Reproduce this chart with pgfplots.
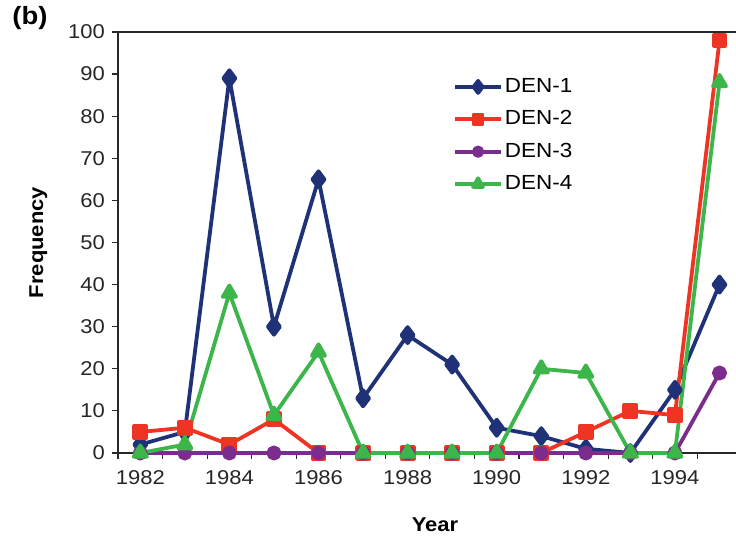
\documentclass[border=0pt]{standalone}
\usepackage{fontspec}
\setmainfont{Liberation Sans}[FakeStretch=1.1]
\usepackage{pgfplots}
\pgfplotsset{compat=1.18}

\definecolor{denone}{RGB}{31,50,120}
\definecolor{dentwo}{RGB}{238,53,36}
\definecolor{denthree}{RGB}{123,45,142}
\definecolor{denfour}{RGB}{60,181,74}
\definecolor{axisgray}{RGB}{40,40,40}

\begin{document}
\begin{tikzpicture}[font=\fontsize{10}{12}\selectfont]
% fixed page frame around the plot box
\path[use as bounding box] (-59pt,-44pt) rectangle (309pt,226.5pt);
\begin{axis}[
  at={(0,0)}, anchor=south west,
  scale only axis,
  width=309pt, height=210.5pt,
  xmin=1981.5, xmax=1995.37,
  ymin=0, ymax=100,
  axis lines=left,
  axis line style={axisgray, line width=0.9pt, -},
  xtick={1982,1984,...,1994},
  major x tick style={draw=none},
  minor xtick={1981.5,1982.5,...,1994.5},
  minor x tick style={axisgray, line width=0.6pt},
  minor tick length=3pt,
  ytick={0,10,...,100},
  y tick style={axisgray, line width=0.6pt},
  major tick length=3pt,
  tick align=outside,
  xticklabel style={/pgf/number format/1000 sep={}, yshift=-2pt},
  /pgf/number format/assume math mode=true,
  tick label style={font=\fontsize{10}{12}\selectfont, text=black!85},
  xlabel={\textbf{Year}},
  ylabel={\textbf{Frequency}},
  xlabel style={at={(axis description cs:0.513,-0.171)}, anchor=center},
  ylabel style={at={(axis description cs:-0.129,0.5)}, anchor=center, rotate=0},
  clip=false,
  legend style={draw=none, fill=none, at={(axis description cs:0.532,0.905)},
    anchor=north west, row sep=5.6pt,
    font=\fontsize{10.2}{12}\selectfont,
    nodes={inner sep=1pt}},
  legend cell align=left,
  legend image code/.code={
    \draw[#1, mark repeat=2, mark phase=2, every mark/.append style={scale=0.75}]
      plot coordinates {(0pt,0pt) (11.5pt,0pt) (23pt,0pt)};
  },
  every axis plot/.append style={line width=1.9pt, line join=round},
]
\addplot[denone, mark=diamond*, mark size=4pt] coordinates {
  (1982,2) (1983,5) (1984,89) (1985,30) (1986,65) (1987,13) (1988,28)
  (1989,21) (1990,6) (1991,4) (1992,1) (1993,0) (1994,15) (1995,40)};
\addplot[dentwo, mark=square*, mark size=3pt] coordinates {
  (1982,5) (1983,6) (1984,2) (1985,8) (1986,0) (1987,0) (1988,0)
  (1989,0) (1990,0) (1991,0) (1992,5) (1993,10) (1994,9) (1995,98)};
\addplot[denthree, mark=*, mark size=2.8pt] coordinates {
  (1982,0) (1983,0) (1984,0) (1985,0) (1986,0) (1987,0) (1988,0)
  (1989,0) (1990,0) (1991,0) (1992,0) (1993,0) (1994,0) (1995,19)};
\addplot[denfour, mark=triangle*, mark size=3.8pt] coordinates {
  (1982,0) (1983,2) (1984,38) (1985,9) (1986,24) (1987,0) (1988,0)
  (1989,0) (1990,0) (1991,20) (1992,19) (1993,0) (1994,0) (1995,88)};
\legend{DEN-1,DEN-2,DEN-3,DEN-4}
% top frame line of the plot box
\draw[axisgray, line width=0.9pt] (rel axis cs:0,1) -- (rel axis cs:1,1);
\end{axis}
\node[font=\fontsize{12.5}{14}\selectfont\bfseries] at (-44pt,217.5pt) {(b)};
\end{tikzpicture}
\end{document}
